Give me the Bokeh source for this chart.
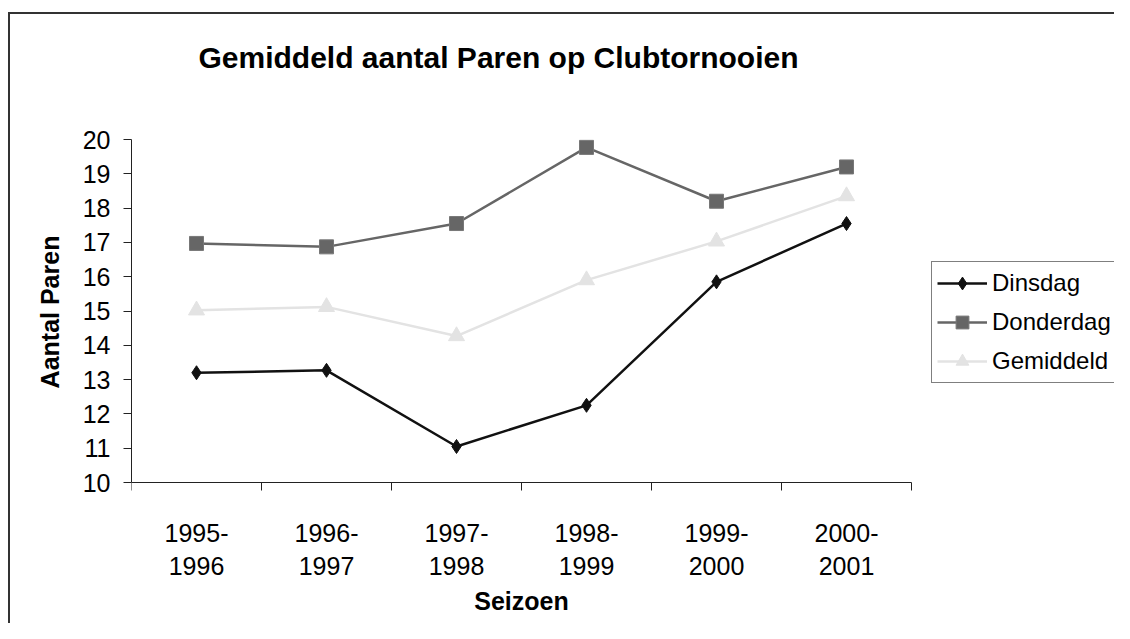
from bokeh.plotting import figure
from bokeh.models import FixedTicker, Legend, LegendItem, Label, LinearAxis
from bokeh.embed import file_html
from bokeh.resources import INLINE

# ---- data ----
seasons = ["1995-\n1996", "1996-\n1997", "1997-\n1998",
           "1998-\n1999", "1999-\n2000", "2000-\n2001"]
dinsdag = [13.2, 13.27, 11.05, 12.25, 15.85, 17.55]
donderdag = [16.97, 16.87, 17.55, 19.77, 18.2, 19.2]
gemiddeld = [15.02, 15.12, 14.27, 15.9, 17.03, 18.35]
y_ticks = list(range(10, 21))
title_text = "Gemiddeld aantal Paren op Clubtornooien"
x_title = "Seizoen"
y_title = "Aantal Paren"

FONT = "Liberation Sans"
W, H = 1114, 623

# layout (pixels): plot box 131..911 x 139..482 inside a full-height frame
LEFT = 131
PLOT_W, PLOT_H = 780, 343
PLOT_BOTTOM = 482          # from top of canvas
frame_w = W - LEFT
n = len(seasons)
y0, y1 = y_ticks[0], y_ticks[-1]
px_x = PLOT_W / n
px_y = PLOT_H / (y1 - y0)
x_end = frame_w / px_x
y_start = y0 - (H - PLOT_BOTTOM) / px_y
y_end = y0 + PLOT_BOTTOM / px_y

p = figure(width=W, height=H, output_backend="svg", toolbar_location=None,
           title=None, x_axis_location=None,
           x_range=(0, x_end), y_range=(y_start, y_end),
           min_border_left=LEFT, min_border_right=0,
           min_border_top=0, min_border_bottom=0)
p.outline_line_color = None
p.grid.visible = False
p.background_fill_color = None
p.border_fill_color = None
# outer chart-area border (only its left and top edges are visible)
p.styles = {
    "background": "linear-gradient(#333333, #333333) 8px 12px / 2px 100% no-repeat, "
                  "linear-gradient(#333333, #333333) 8px 12px / 100% 2px no-repeat, white"
}

xs = [i + 0.5 for i in range(n)]

# ---- title and x-axis title ----
p.add_layout(Label(x=367, y=H - 57, x_units="screen", y_units="screen",
                   text=title_text, text_align="center", text_baseline="middle",
                   text_font=FONT, text_font_size="30px", text_font_style="bold",
                   text_color="black"))
p.add_layout(Label(x=PLOT_W / 2, y=H - 600, x_units="screen", y_units="screen",
                   text=x_title, text_align="center", text_baseline="middle",
                   text_font=FONT, text_font_size="25px", text_font_style="bold",
                   text_color="black"))

# ---- axes ----
xa = LinearAxis(fixed_location=y0, bounds=(0, n))
xa.ticker = FixedTicker(ticks=xs, minor_ticks=list(range(n + 1)))
xa.major_label_overrides = {x: s for x, s in zip(xs, seasons)}
xa.major_tick_out = 0
xa.major_tick_in = 0
xa.minor_tick_out = 8
xa.minor_tick_in = 0
xa.minor_tick_line_color = "#222222"
xa.axis_line_color = "#222222"
xa.major_label_text_font = FONT
xa.major_label_text_font_size = "25px"
xa.major_label_text_color = "black"
xa.major_label_text_line_height = 1.2
xa.major_label_standoff = 28
p.add_layout(xa, "below")

ya = p.yaxis[0]
ya.bounds = (y0, y1)
ya.ticker = FixedTicker(ticks=y_ticks, minor_ticks=[])
ya.major_tick_out = 8
ya.major_tick_in = 0
ya.major_tick_line_color = "#222222"
ya.axis_line_color = "#222222"
ya.minor_tick_line_color = None
ya.major_label_text_font = FONT
ya.major_label_text_font_size = "25px"
ya.major_label_text_color = "black"
ya.major_label_standoff = 13
ya.axis_label = y_title
ya.axis_label_text_font = FONT
ya.axis_label_text_font_size = "25px"
ya.axis_label_text_font_style = "bold"
ya.axis_label_text_color = "black"
ya.axis_label_standoff = 16

# ---- series ----
l1 = p.line(xs, dinsdag, line_color="#111111", line_width=2.5)
m1 = p.scatter(xs, dinsdag, marker="diamond", size=14,
               fill_color="#111111", line_color="#111111")
l2 = p.line(xs, donderdag, line_color="#666666", line_width=2.5)
m2 = p.scatter(xs, donderdag, marker="square", size=14,
               fill_color="#666666", line_color="#777777")
l3 = p.line(xs, gemiddeld, line_color="#e3e3e3", line_width=2.5)
m3 = p.scatter(xs, gemiddeld, marker="triangle", size=16,
               fill_color="#e3e3e3", line_color="#e3e3e3")

legend = Legend(items=[
    LegendItem(label="Dinsdag", renderers=[l1, m1]),
    LegendItem(label="Donderdag", renderers=[l2, m2]),
    LegendItem(label="Gemiddeld", renderers=[l3, m3]),
], location=(800, H - 383))
legend.border_line_color = "black"
legend.border_line_width = 1
legend.background_fill_color = "white"
legend.background_fill_alpha = 1
legend.padding = 5
legend.spacing = 7
legend.label_height = 22
legend.glyph_height = 32
legend.glyph_width = 50
legend.label_standoff = 5
legend.margin = 0
legend.label_text_font = FONT
legend.label_text_font_size = "24px"
legend.label_text_color = "black"
p.add_layout(legend)

open("out.html", "w").write(file_html(p, INLINE))
